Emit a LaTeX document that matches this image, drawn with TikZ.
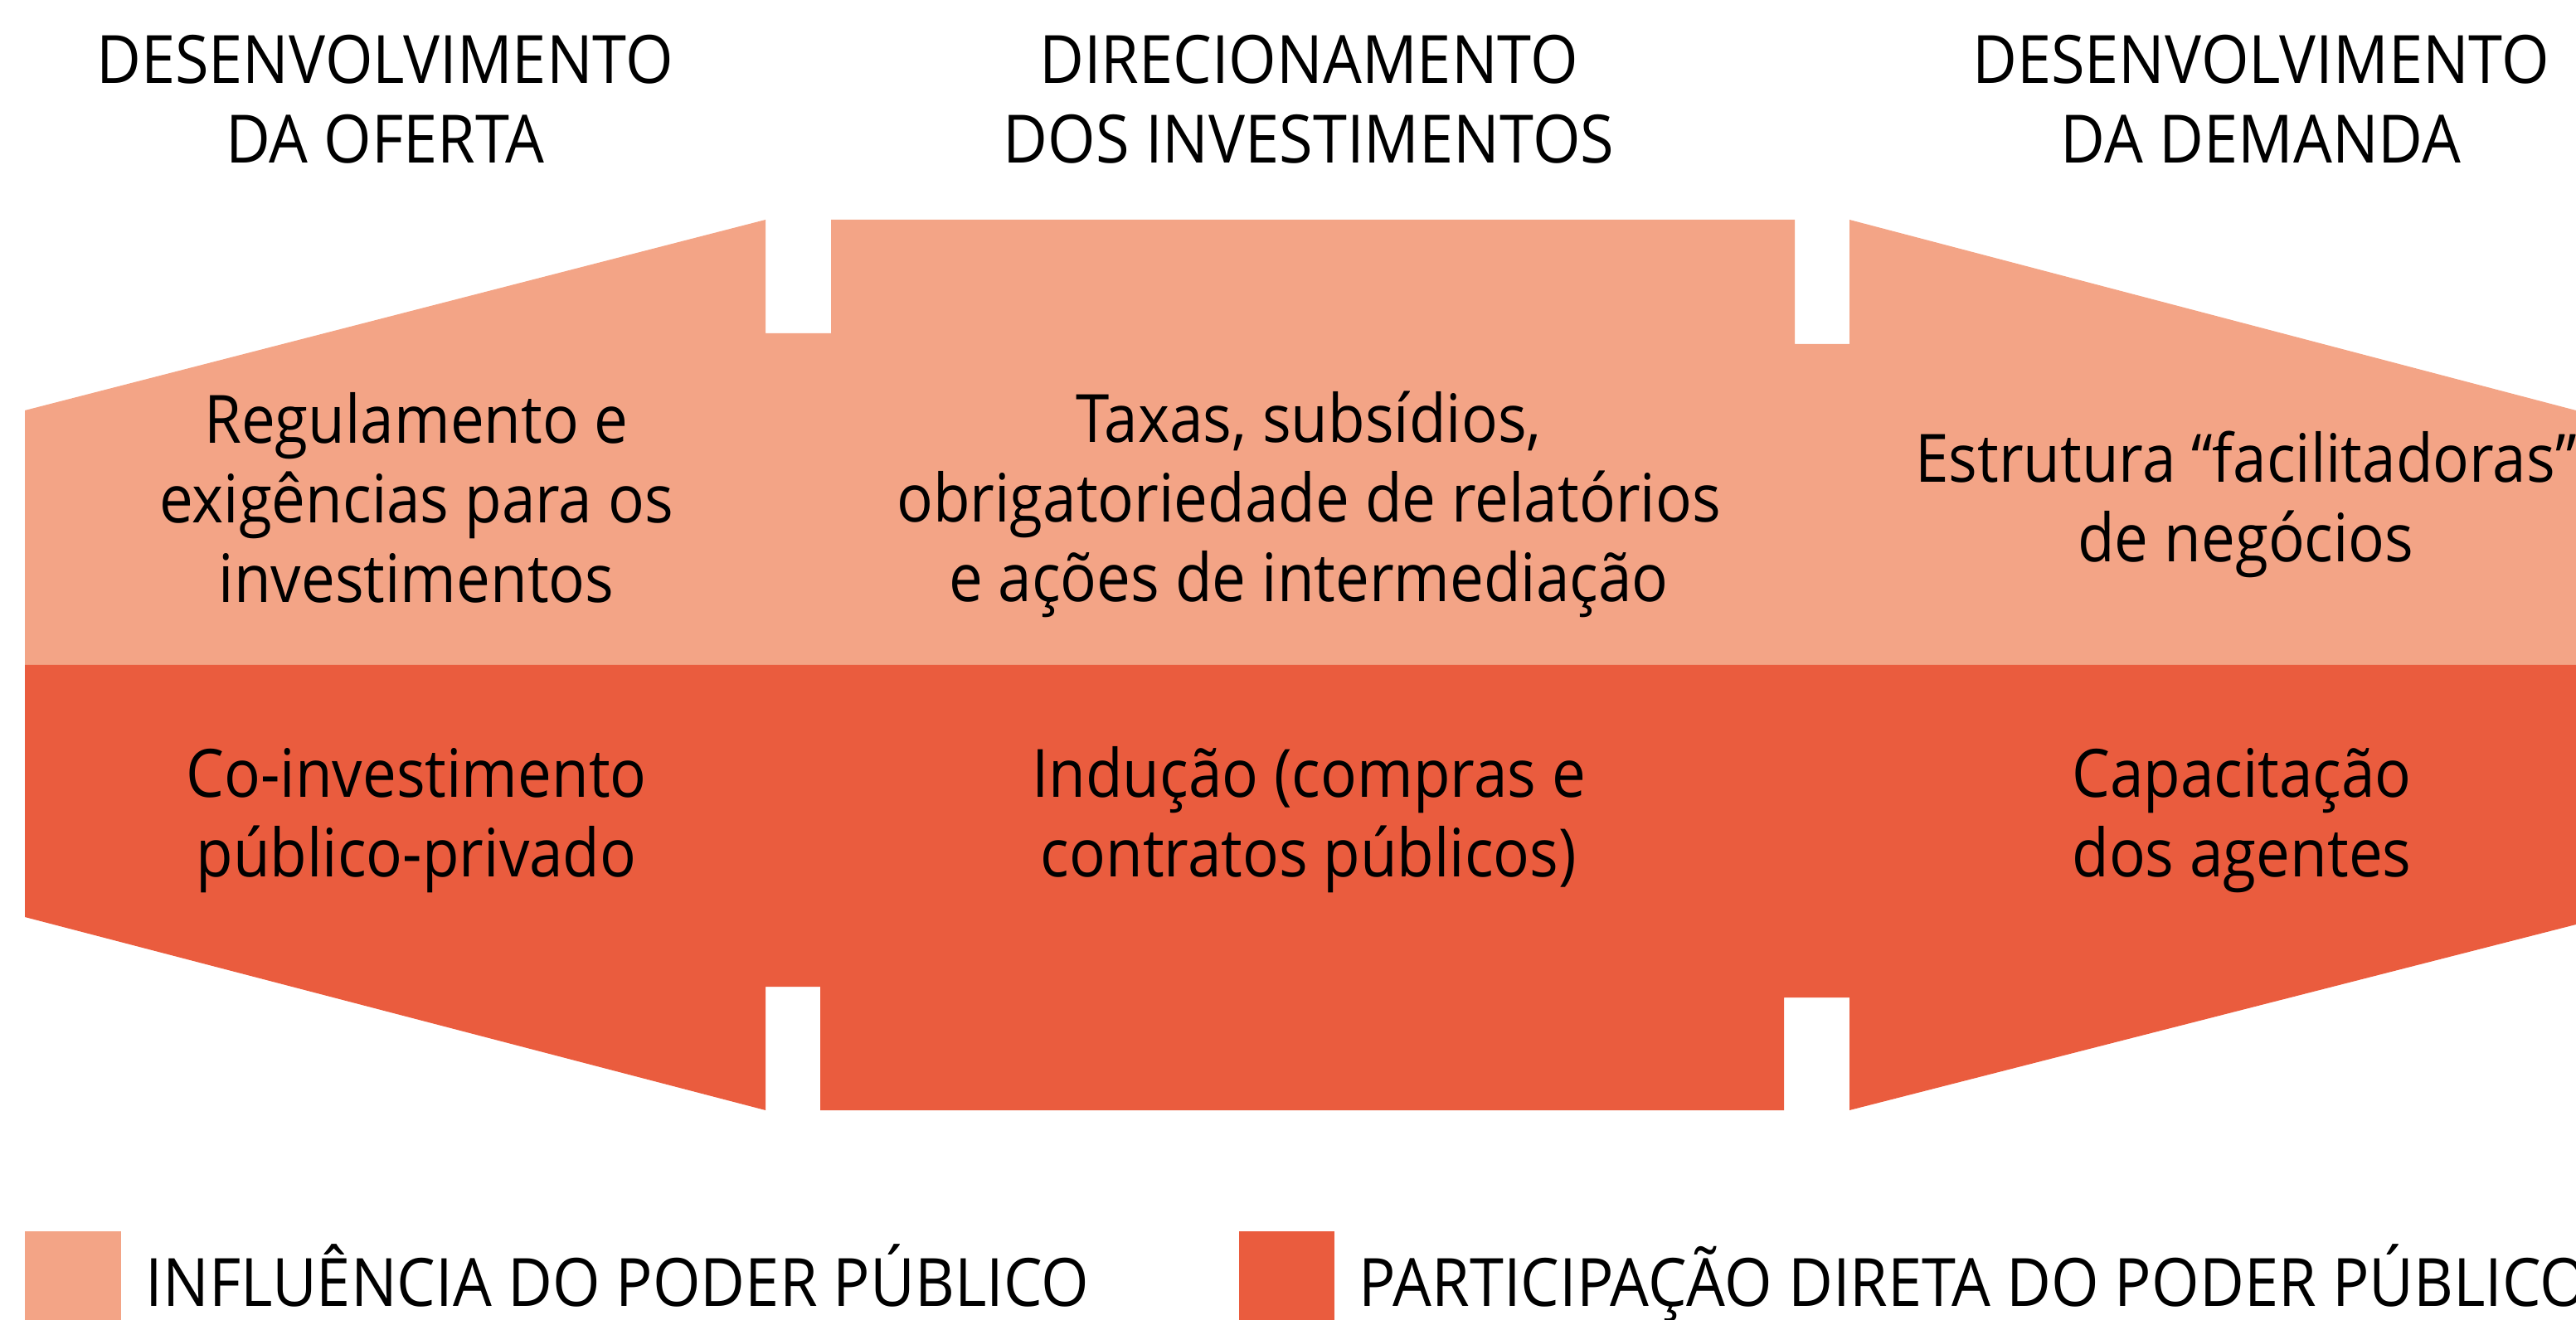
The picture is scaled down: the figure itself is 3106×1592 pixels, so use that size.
\documentclass[tikz,border=0pt]{standalone}
\usepackage{fontspec}
\setmainfont{Open Sans}[FakeStretch=0.905]
\newfontfamily\capsfont{Open Sans}[FakeStretch=0.92]
\definecolor{influ}{HTML}{F3A486}
\definecolor{partic}{HTML}{EA5C3E}
\begin{document}
\begin{tikzpicture}[x=0.25pt,y=-0.25pt,
  txt/.style={font=\fontsize{20.1}{24.1}\selectfont, align=center, anchor=base, inner sep=0pt, text=black},
  head/.style={font=\capsfont\fontsize{20.1}{24.1}\selectfont, align=center, anchor=base, inner sep=0pt, text=black},
  legtxt/.style={font=\capsfont\fontsize{20.1}{24.1}\selectfont, anchor=base west, inner sep=0pt, text=black}]
\useasboundingbox (0,0) rectangle (3106,1592);
% upper band (influence)
\fill[influ] (30,495) -- (923,265) -- (923,402) -- (1002,402) -- (1002,265)
  -- (2164,265) -- (2164,415) -- (2230,415) -- (2230,265) -- (3106,495)
  -- (3106,803) -- (30,803) -- cycle;
% lower band (direct participation)
\fill[partic] (30,802) -- (3106,802) -- (3106,1115) -- (2230,1339) -- (2230,1203)
  -- (2151,1203) -- (2151,1339) -- (989,1339) -- (989,1190) -- (923,1190)
  -- (923,1339) -- (30,1106) -- cycle;
% headings (anchor = baseline of last line)
\node[head] (h1) at (464,197) {DESENVOLVIMENTO\\DA OFERTA};
\node[head] (h2) at (1578,197) {DIRECIONAMENTO\\DOS INVESTIMENTOS};
\node[head] (h3) at (2726,197) {DESENVOLVIMENTO\\DA DEMANDA};
% upper texts
\node[txt] (t1) at (502,727) {Regulamento e\\exigências para os\\investimentos};
\node[txt] (t2) at (1578,726) {Taxas, subsídios,\\obrigatoriedade de relatórios\\e ações de intermediação};
\node[txt] (t3) at (2708,678) {Estrutura “facilitadoras”\\de negócios};
% lower texts
\node[txt] (b1) at (502,1058) {Co-investimento\\público-privado};
\node[txt] (b2) at (1578,1058) {Indução (compras e\\contratos públicos)};
\node[txt] (b3) at (2703,1058) {Capacitação\\dos agentes};
% legend
\fill[influ] (30,1485) rectangle (146,1592);
\node[legtxt] (l1) at (175,1575) {INFLUÊNCIA DO PODER PÚBLICO};
\fill[partic] (1494,1485) rectangle (1609,1592);
\node[legtxt] (l2) at (1638,1575) {PARTICIPAÇÃO DIRETA DO PODER PÚBLICO};
\end{tikzpicture}
\end{document}
